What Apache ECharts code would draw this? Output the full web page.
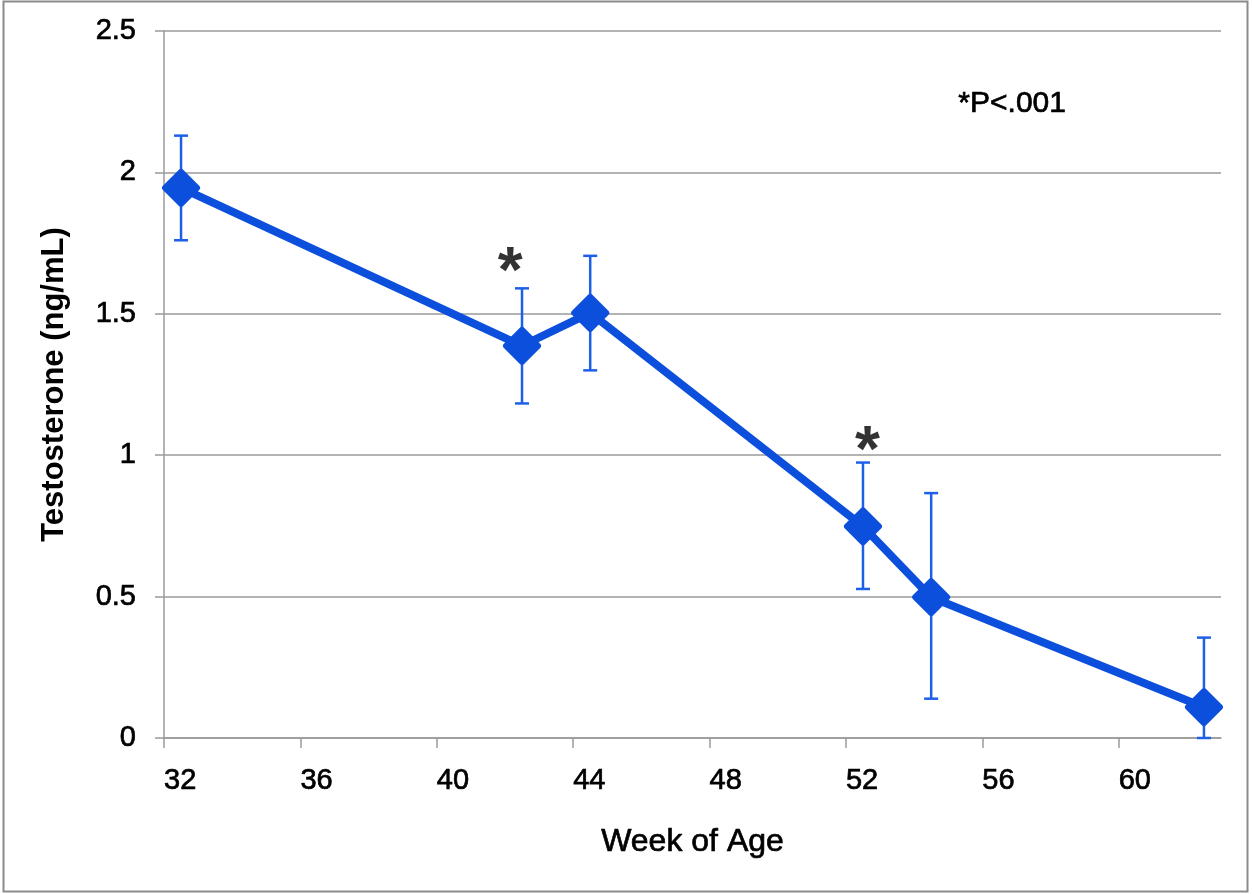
<!DOCTYPE html>
<html>
<head>
<meta charset="utf-8">
<script src="https://cdn.jsdelivr.net/npm/echarts@6/dist/echarts.min.js"></script>
<style>
  html, body { margin: 0; padding: 0; background: #fff; }
  #chart { width: 1252px; height: 894px; }
</style>
</head>
<body>
<div id="chart"></div>
<script>
// weeks of age and mean testosterone (ng/mL)
var weeks = [32.5, 42.5, 44.5, 52.5, 54.5, 62.5];
var testosterone = [1.945, 1.387, 1.503, 0.748, 0.498, 0.109];
// error bar ends
var errLow = [1.76, 1.183, 1.30, 0.527, 0.139, 0];
var errHigh = [2.13, 1.59, 1.705, 0.974, 0.866, 0.355];
// significance marks (x, y) placed above points
var starPoints = [[42.15, 1.638], [52.63, 1.005]];
var yTicks = [0, 0.5, 1, 1.5, 2, 2.5];

var chart = echarts.init(document.getElementById("chart"));
var font = "Liberation Sans, Arial, sans-serif";
var blue = "#0b4fdc";
// Excel-ish heavier text
var thick = { textBorderColor: "#000", textBorderWidth: 0.7 };

chart.setOption({
  backgroundColor: "#ffffff",
  animation: false,
  grid: { left: 164, right: 31, top: 31, bottom: 156 },
  xAxis: {
    type: "value",
    min: 32,
    max: 63,
    interval: 4,
    name: "Week of Age",
    nameLocation: "middle",
    nameGap: 88,
    nameTextStyle: Object.assign({ fontFamily: font, fontSize: 32, color: "#000" }, thick),
    axisLine: { lineStyle: { color: "#9a9a9a", width: 1.5 } },
    axisTick: { length: 10, lineStyle: { color: "#9a9a9a", width: 1.5 } },
    axisLabel: Object.assign({
      fontFamily: font, fontSize: 29, color: "#000", margin: 28, align: "left",
      showMaxLabel: false
    }, thick),
    splitLine: { show: false }
  },
  yAxis: {
    type: "value",
    min: 0,
    max: 2.5,
    interval: 0.5,
    name: "Testosterone (ng/mL)",
    nameLocation: "middle",
    nameGap: 94,
    nameTextStyle: { fontFamily: font, fontSize: 31, fontWeight: "bold", color: "#000" },
    axisLine: { show: true, lineStyle: { color: "#9a9a9a", width: 1.5 } },
    axisTick: { show: true, length: 9, lineStyle: { color: "#9a9a9a", width: 1.5 } },
    axisLabel: Object.assign({ fontFamily: font, fontSize: 29, color: "#000", margin: 28 }, thick),
    splitLine: { lineStyle: { color: "#9a9a9a", width: 1.5 } }
  },
  series: [
    {
      type: "custom",
      z: 1,
      data: weeks.map(function (w, i) { return [w, errLow[i], errHigh[i]]; }),
      renderItem: function (params, api) {
        var lo = api.coord([api.value(0), api.value(1)]);
        var hi = api.coord([api.value(0), api.value(2)]);
        var cap = 7;
        var st = { stroke: "#1e5fe8", lineWidth: 2.5 };
        return {
          type: "group",
          children: [
            { type: "line", shape: { x1: lo[0], y1: lo[1], x2: hi[0], y2: hi[1] }, style: st },
            { type: "line", shape: { x1: hi[0] - cap, y1: hi[1], x2: hi[0] + cap, y2: hi[1] }, style: st },
            { type: "line", shape: { x1: lo[0] - cap, y1: lo[1], x2: lo[0] + cap, y2: lo[1] }, style: st }
          ]
        };
      }
    },
    {
      type: "line",
      z: 2,
      data: weeks.map(function (w, i) { return [w, testosterone[i]]; }),
      symbol: "diamond",
      symbolSize: 32,
      lineStyle: { color: blue, width: 8 },
      itemStyle: { color: blue, borderColor: blue, borderWidth: 6, borderJoin: "round" }
    },
    {
      type: "scatter",
      z: 3,
      data: starPoints,
      symbolSize: 0,
      label: {
        show: true,
        position: "inside",
        formatter: "*",
        fontFamily: font,
        fontSize: 64,
        fontWeight: "bold",
        color: "#000"
      }
    }
  ],
  graphic: [
    {
      type: "rect",
      shape: { x: 3.5, y: 1.5, width: 1244, height: 890 },
      style: { fill: null, stroke: "#8c8c8c", lineWidth: 2 },
      silent: true
    },
    {
      type: "text",
      left: 958,
      top: 88,
      style: Object.assign({ text: "*P<.001", fontFamily: font, fontSize: 30, fill: "#000" }, { stroke: "#000", lineWidth: 0.7 })
    }
  ]
});
</script>
</body>
</html>
